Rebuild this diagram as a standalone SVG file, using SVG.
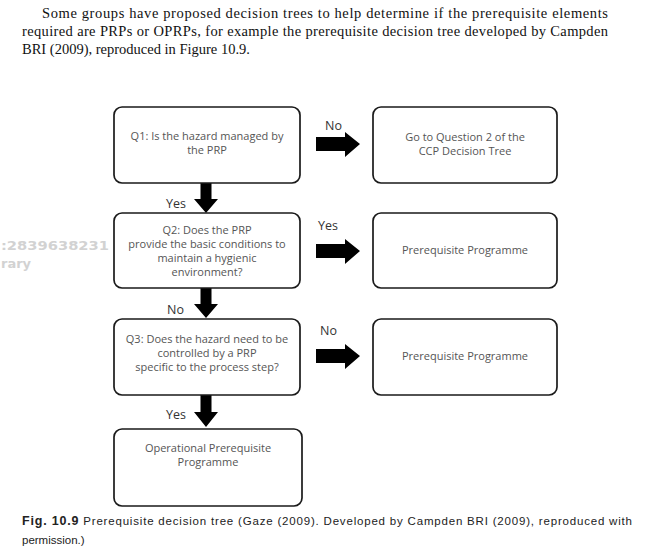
<svg xmlns="http://www.w3.org/2000/svg" width="651" height="557" viewBox="0 0 651 557">
<style>
.box{fill:#fff;stroke:#1a1a1a;stroke-width:1.7}
.bt{font-family:"Open Sans","Liberation Sans",sans-serif;font-size:11px;fill:#555;text-anchor:middle}
.lab{font-family:"Open Sans","Liberation Sans",sans-serif;font-size:12.5px;fill:#333}
.arr{fill:#000}
.para{font-family:"Liberation Serif","Times New Roman",serif;font-size:14.5px;fill:#111}
.cap{font-family:"Liberation Sans",Arial,sans-serif;font-size:11.5px;fill:#222}
.wm{font-family:"DejaVu Sans",sans-serif;font-size:13px;font-weight:bold;fill:#d2d2d2}
</style>
<rect width="651" height="557" fill="#fff"/>
<g id="paragraph">
<text class="para" x="42" y="18" textLength="566" lengthAdjust="spacing">Some groups have proposed decision trees to help determine if the prerequisite elements</text>
<text class="para" x="22" y="36" textLength="586" lengthAdjust="spacing">required are PRPs or OPRPs, for example the prerequisite decision tree developed by Campden</text>
<text class="para" x="22" y="54">BRI (2009), reproduced in Figure 10.9.</text>
</g>
<g id="watermark">
<text class="wm" x="1" y="250" textLength="108" lengthAdjust="spacingAndGlyphs">:2839638231</text>
<text class="wm" x="1" y="268">rary</text>
</g>
<g id="connectors">
<polygon class="arr" points="316,137 345,137 345,132 360,144 345,157 345,151 316,151"/>
<text class="lab" x="325" y="130">No</text>
<polygon class="arr" points="316,244 345,244 345,239 360,251 345,264 345,258 316,258"/>
<text class="lab" x="318" y="230">Yes</text>
<polygon class="arr" points="316,349 345,349 345,344 360,356 345,369 345,363 316,363"/>
<text class="lab" x="320" y="335">No</text>
<polygon class="arr" points="200.5,183 211.5,183 211.5,199 218,199 206,213 194,199 200.5,199"/>
<text class="lab" x="166" y="208">Yes</text>
<polygon class="arr" points="200.5,288 211.5,288 211.5,304 218,304 206,318 194,304 200.5,304"/>
<text class="lab" x="167" y="314">No</text>
<polygon class="arr" points="200.5,395 211.5,395 211.5,412 218,412 206,427 194,412 200.5,412"/>
<text class="lab" x="166" y="419">Yes</text>
</g>
<g id="q1">
<rect class="box" x="114" y="107" width="186" height="76" rx="8"/>
<text class="bt" x="207" y="140">Q1: Is the hazard managed by</text>
<text class="bt" x="207" y="154">the PRP</text>
</g>
<g id="q2">
<rect class="box" x="114" y="213" width="186" height="75" rx="8"/>
<text class="bt" x="207" y="234">Q2: Does the PRP</text>
<text class="bt" x="207" y="248">provide the basic conditions to</text>
<text class="bt" x="207" y="262">maintain a hygienic</text>
<text class="bt" x="207" y="276">environment?</text>
</g>
<g id="q3">
<rect class="box" x="114" y="319" width="186" height="76" rx="8"/>
<text class="bt" x="207" y="343">Q3: Does the hazard need to be</text>
<text class="bt" x="207" y="357">controlled by a PRP</text>
<text class="bt" x="207" y="371">specific to the process step?</text>
</g>
<g id="oprp">
<rect class="box" x="114" y="429" width="188" height="77" rx="8"/>
<text class="bt" x="208" y="452">Operational Prerequisite</text>
<text class="bt" x="208" y="466">Programme</text>
</g>
<g id="r1">
<rect class="box" x="373" y="107" width="184" height="76" rx="8"/>
<text class="bt" x="465" y="141">Go to Question 2 of the</text>
<text class="bt" x="465" y="155">CCP Decision Tree</text>
</g>
<g id="r2">
<rect class="box" x="373" y="213" width="184" height="75" rx="8"/>
<text class="bt" x="465" y="254">Prerequisite Programme</text>
</g>
<g id="r3">
<rect class="box" x="373" y="319" width="184" height="76" rx="8"/>
<text class="bt" x="465" y="360">Prerequisite Programme</text>
</g>
<g id="caption">
<text class="cap" x="22" y="525" textLength="610" lengthAdjust="spacing"><tspan font-weight="bold" font-size="12.5px">Fig. 10.9</tspan>   Prerequisite decision tree (Gaze (2009). Developed by Campden BRI (2009), reproduced with</text>
<text class="cap" x="22" y="544">permission.)</text>
</g>
</svg>
